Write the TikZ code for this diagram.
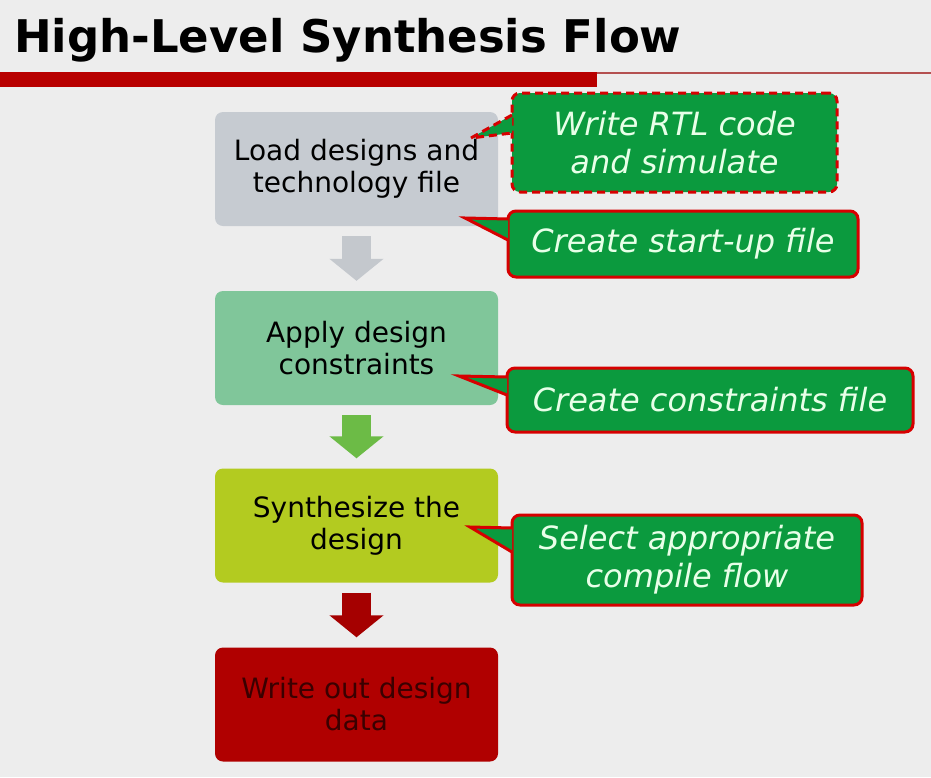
\documentclass[tikz,border=0pt]{standalone}
\usepackage{fontspec}
\setmainfont{DejaVu Sans}
\usetikzlibrary{arrows.meta, calc}
\definecolor{slidebg}{HTML}{EDEDED}
\definecolor{titlered}{HTML}{B80000}
\definecolor{rulegray}{HTML}{B45050}
\definecolor{loadgray}{HTML}{C6CBD1}
\definecolor{applygreen}{HTML}{80C69A}
\definecolor{synthyellow}{HTML}{B3CB20}
\definecolor{writered}{HTML}{B00000}
\definecolor{writetext}{HTML}{3A0000}
\definecolor{arrowgray}{HTML}{C4C8CD}
\definecolor{arrowgreen}{HTML}{6CBB46}
\definecolor{arrowred}{HTML}{A50000}
\definecolor{callgreen}{HTML}{0B9A3E}
\definecolor{callred}{HTML}{D60000}
\definecolor{calltext}{HTML}{E8FFE8}
\tikzset{
  stepbox/.style={rounded corners=8pt, minimum width=283pt, minimum height=114pt,
    inner sep=0pt, align=center, font=\fontsize{28}{32}\selectfont},
  callbox/.style={rounded corners=8pt, fill=callgreen, draw=callred, line width=3pt,
    inner sep=0pt, align=center, text=calltext, font=\fontsize{32}{38}\selectfont\itshape},
  tip/.style={fill=callgreen, draw=callred, line width=3pt, line join=miter},
  flow/.style={line width=29pt, -{Triangle[width=53pt, length=22pt]},
    shorten <=10pt, shorten >=10pt},
}

\begin{document}
\begin{tikzpicture}[x=1pt, y=-1pt]
\useasboundingbox (0,0) rectangle (931,777);
\fill[slidebg] (0,0) rectangle (931,777);

% title and rule
\node[anchor=base west, inner sep=0pt, font=\fontsize{45}{54}\selectfont\bfseries] (title) at (14,52) {High-Level Synthesis Flow};
\fill[titlered] (0,72) rectangle (597,87);
\draw[line width=2pt, rulegray] (597,73) -- (931,73);

% flow steps
\node[stepbox, fill=loadgray] (load) at (356.5,169) {Load designs and\\technology file};
\node[stepbox, fill=applygreen] (apply) at (356.5,348) {Apply design\\constraints};
\node[stepbox, fill=synthyellow] (synth) at (356.5,525.5) {Synthesize the\\design};
\node[stepbox, fill=writered, text=writetext] (write) at (356.5,704.5) {Write out design\\data};

\draw[flow, arrowgray] (load) -- (apply);
\draw[flow, arrowgreen] (apply) -- (synth);
\draw[flow, arrowred] (synth) -- (write);

% callouts
\node[callbox, dash pattern=on 8pt off 5pt, minimum width=325pt, minimum height=99pt] (rtl) at (674.5,142.5) {Write RTL code\\and simulate};
\coordinate (rtltip) at (471,138);
\path[tip, dash pattern=on 8pt off 5pt] ($(rtl.west)+(1.5,-27.5)$) -- (rtltip) -- ($(rtl.west)+(1.5,-9.5)$);

\node[callbox, minimum width=350pt, minimum height=66pt] (startup) at (683,244) {Create start-up file};
\coordinate (startuptip) at (465,218);
\path[tip] ($(startup.west)+(1.5,-25)$) -- (startuptip) -- ($(startup.west)+(1.5,-4)$);

\node[callbox, minimum width=406pt, minimum height=64pt] (constr) at (710,400) {Create constraints file};
\coordinate (constrtip) at (459,376);
\path[tip] ($(constr.west)+(1.5,-23)$) -- (constrtip) -- ($(constr.west)+(1.5,-5)$);

\node[callbox, minimum width=350pt, minimum height=90pt] (compile) at (687,560) {Select appropriate\\compile flow};
\coordinate (compiletip) at (470,527);
\path[tip] ($(compile.west)+(1.5,-32)$) -- (compiletip) -- ($(compile.west)+(1.5,-8)$);
\end{tikzpicture}
\end{document}
